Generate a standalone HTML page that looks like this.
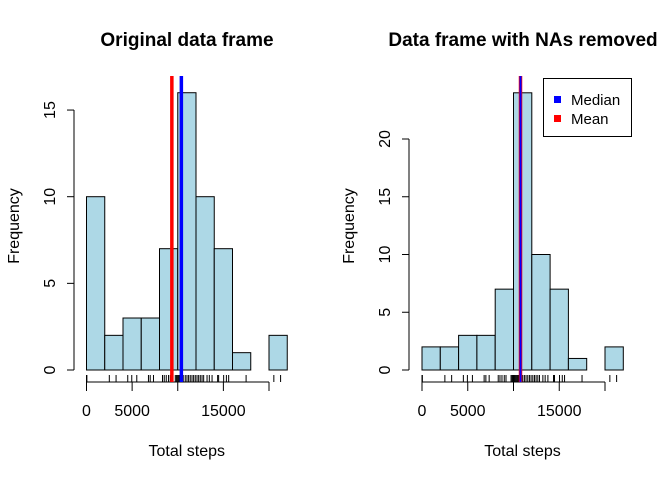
<!DOCTYPE html>
<html><head><meta charset="utf-8"><style>
body{margin:0;background:#fff}
svg{display:block;font-family:"Liberation Sans",Arial,sans-serif}
</style></head><body>
<svg id="c" width="672" height="480" viewBox="0 0 672 480"></svg>
<script>
const binEdges=[0,2000,4000,6000,8000,10000,12000,14000,16000,18000,20000,22000];
const countsLeft=[10,2,3,3,7,16,10,7,1,0,2];
const countsRight=[2,2,3,3,7,24,10,7,1,0,2];
const xTicks=[0,5000,10000,15000,20000];
const xTickLabels=["0","5000","","15000",""];
const yTicksLeft=[0,5,10,15];
const yTicksRight=[0,5,10,15,20];
const rugLeft=[0,41,2500,3240,4520,4960,5510,6790,6980,7340,8330,8520,8740,8990,9180,9730,9850,9950,10050,10150,10250,10350,10450,10550,10600,10820,11010,11190,11370,11560,11740,11920,12110,12290,12470,12660,12840,13210,13460,13760,14370,14480,15030,15330,15580,17490,20530,21270];
const meanLeft=9354, medianLeft=10395;
const meanRight=10766, medianRight=10766;
const naFilled=[10766,10766,10766,10766,10766,10766,10766,10766];

const NS="http://www.w3.org/2000/svg";
const svg=document.getElementById('c');
function el(tag,attrs,parent){const e=document.createElementNS(NS,tag);for(const k in attrs)e.setAttribute(k,attrs[k]);(parent||svg).appendChild(e);return e;}

function panel(cfg){
  const g=el('g',{});
  
  
  const x=v=>cfg.x0+v*(cfg.x1-cfg.x0)/20000;
  const y=v=>370-v*cfg.yk;
  cfg.counts.forEach((c,i)=>{
    if(c<=0)return;
    const r=el('rect',{x:x(binEdges[i]),y:y(c),width:x(binEdges[i+1])-x(binEdges[i]),height:y(0)-y(c),fill:'#add8e6',stroke:'#000','stroke-width':1},g);
    
    
  });
  const ya=el('g',{},g);
  
  
  el('line',{x1:cfg.ax,x2:cfg.ax,y1:y(0),y2:y(cfg.yt[cfg.yt.length-1]),stroke:'#000'},ya);
  cfg.yt.forEach(t=>{
    el('line',{x1:cfg.ax-7,x2:cfg.ax,y1:y(t),y2:y(t),stroke:'#000'},ya);
    const tx=el('text',{x:cfg.ax-19,y:y(t),'font-size':16,'text-anchor':'middle',transform:`rotate(-90 ${cfg.ax-19} ${y(t)})`},ya);
    tx.textContent=t;
  });
  const rg=el('g',{},g);
  
  
  cfg.rug.forEach(v=>el('line',{x1:x(v),x2:x(v),y1:375,y2:382,stroke:'#000'},rg));
  const xa=el('g',{},g);
  
  
  el('line',{x1:x(0),x2:x(20000),y1:382,y2:382,stroke:'#000'},xa);
  xTicks.forEach((t,i)=>{
    el('line',{x1:x(t),x2:x(t),y1:382,y2:391,stroke:'#000'},xa);
    if(xTickLabels[i]){const tx=el('text',{x:x(t),y:416,'font-size':16,'text-anchor':'middle'},xa);tx.textContent=xTickLabels[i];}
  });
  const m=el('line',{x1:x(cfg.mean),x2:x(cfg.mean),y1:76,y2:382,stroke:'#ff0000','stroke-width':3.5},g);
  
  const md=el('line',{x1:x(cfg.median),x2:x(cfg.median),y1:76,y2:382,stroke:'#0000ff','stroke-width':cfg.medW},g);
  
  const t=el('text',{x:cfg.tx,y:46,'font-size':19,'font-weight':'bold','text-anchor':'middle'},g);
  t.textContent=cfg.title;
  const xl=el('text',{x:x(10000)+9,y:456,'font-size':16,'text-anchor':'middle'},g);
  xl.textContent='Total steps';
  const yl=el('text',{x:cfg.ax-55,y:226,'font-size':16,'text-anchor':'middle',transform:`rotate(-90 ${cfg.ax-55} 226)`},g);
  yl.textContent='Frequency';
}
panel({name:'left-panel',x0:86.5,x1:269,yk:17.33,ax:74,yt:yTicksLeft,counts:countsLeft,rug:rugLeft,mean:meanLeft,median:medianLeft,medW:3.5,title:'Original data frame',tx:187});
panel({name:'right-panel',x0:422,x1:605,yk:11.55,ax:409,yt:yTicksRight,counts:countsRight,rug:rugLeft.concat(naFilled),mean:meanRight,median:medianRight,medW:2,title:'Data frame with NAs removed',tx:523});

const lg=el('g',{});


el('rect',{x:543.5,y:78.5,width:88,height:58,fill:'#fff',stroke:'#000'},lg);
[['Median','#0000ff',100],['Mean','#ff0000',119]].forEach(([n,c,yy])=>{
  const e=el('g',{},lg);
  
  
  el('rect',{x:554,y:yy-4,width:7,height:7,fill:c},e);
  const t=el('text',{x:571,y:yy+5,'font-size':15},e);t.textContent=n;
});
</script>
</body></html>
